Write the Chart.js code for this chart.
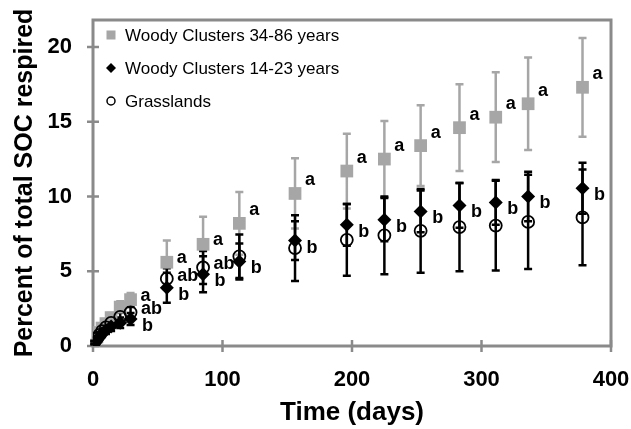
<!DOCTYPE html>
<html lang="en">
<head>
<meta charset="UTF-8">
<title>Percent of total SOC respired</title>
<script src="https://cdn.jsdelivr.net/npm/chart.js"></script>
<style>
    body {
        margin: 0;
        padding: 0;
        background: #ffffff;
    }

    #chart-container {
        width: 631px;
        height: 429px;
    }
</style>
</head>
<body>
<div id="chart-container">
    <canvas id="socChart"></canvas>
</div>
<script>
    // incubation days
    const days = [1, 3, 5, 7, 10, 14, 21, 29, 57, 85, 113, 156, 196, 225, 253, 283, 311, 336, 378];

    // Woody Clusters 34-86 years
    const oldClusters = [0.3, 0.6, 0.9, 1.2, 1.5, 1.9, 2.6, 3.1, 5.6, 6.8, 8.2, 10.2, 11.7, 12.5, 13.4, 14.6, 15.3, 16.2, 17.3];
    const oldErr = [0.1, 0.15, 0.2, 0.2, 0.25, 0.3, 0.4, 0.45, 1.45, 1.85, 2.1, 2.35, 2.5, 2.55, 2.7, 2.9, 3.0, 3.1, 3.3];
    const oldLetters = ['', '', '', '', '', '', '', 'a', 'a', 'a', 'a', 'a', 'a', 'a', 'a', 'a', 'a', 'a', 'a'];

    // Woody Clusters 14-23 years
    const youngClusters = [0.2, 0.4, 0.6, 0.85, 1.05, 1.3, 1.55, 1.8, 3.9, 4.8, 5.65, 7.05, 8.1, 8.45, 9.0, 9.4, 9.6, 10.0, 10.55];
    const youngErr = [0.1, 0.1, 0.15, 0.2, 0.25, 0.3, 0.35, 0.4, 1.0, 1.2, 1.2, 1.3, 1.4, 1.45, 1.4, 1.5, 1.5, 1.65, 1.7];
    const youngLetters = ['', '', '', '', '', '', '', 'b', 'b', 'b', 'b', 'b', 'b', 'b', 'b', 'b', 'b', 'b', 'b'];

    // Grasslands
    const grasslands = [0.25, 0.5, 0.75, 1.0, 1.25, 1.55, 1.95, 2.25, 4.5, 5.25, 6.0, 6.55, 7.1, 7.4, 7.7, 7.95, 8.05, 8.3, 8.6];
    const grassErr = [0.1, 0.1, 0.15, 0.2, 0.2, 0.25, 0.3, 0.35, 0.7, 1.1, 1.45, 2.2, 2.4, 2.6, 2.8, 2.95, 3.0, 3.15, 3.2];
    const grassLetters = ['', '', '', '', '', '', '', 'ab', 'ab', 'ab', '', '', '', '', '', '', '', '', ''];

    const xTicks = [0, 100, 200, 300, 400];
    const yTicks = [0, 5, 10, 15, 20];

    const FONT = "'Liberation Sans', Arial, sans-serif";
    const GRAY = '#a6a6a6';
    const FRAME_GRAY = '#8a8a8a';

    function points(values) {
        return days.map((d, i) => ({ x: d, y: values[i] }));
    }

    // frame, crossing tick marks and error bars, all under the markers
    const decorations = {
        id: 'decorations',
        beforeDatasetsDraw(chart) {
            const { ctx, chartArea: a, scales: { x, y } } = chart;
            ctx.save();

            ctx.strokeStyle = FRAME_GRAY;
            ctx.lineWidth = 3;
            ctx.strokeRect(a.left, a.top, a.right - a.left, a.bottom - a.top);

            ctx.lineWidth = 2.5;
            ctx.beginPath();
            x.ticks.forEach(t => {
                const px = x.getPixelForValue(t.value);
                ctx.moveTo(px, a.bottom - 6);
                ctx.lineTo(px, a.bottom + 6);
            });
            y.ticks.forEach(t => {
                const py = y.getPixelForValue(t.value);
                ctx.moveTo(a.left - 6, py);
                ctx.lineTo(a.left + 6, py);
            });
            ctx.stroke();

            chart.data.datasets.forEach(ds => {
                ctx.strokeStyle = ds.errColor;
                ctx.lineWidth = 2.5;
                ctx.beginPath();
                ds.data.forEach((p, j) => {
                    const e = ds.errors[j];
                    const px = x.getPixelForValue(p.x);
                    const top = y.getPixelForValue(p.y + e);
                    const bot = y.getPixelForValue(Math.max(0, p.y - e));
                    ctx.moveTo(px, top);
                    ctx.lineTo(px, bot);
                    ctx.moveTo(px - 4, top);
                    ctx.lineTo(px + 4, top);
                    ctx.moveTo(px - 4, bot);
                    ctx.lineTo(px + 4, bot);
                });
                ctx.stroke();
            });
            ctx.restore();
        },
        afterDatasetsDraw(chart) {
            const { ctx, chartArea: a, scales: { x, y } } = chart;
            ctx.save();

            // significance letters
            ctx.fillStyle = '#000';
            ctx.font = 'bold 18px ' + FONT;
            ctx.textAlign = 'center';
            ctx.textBaseline = 'middle';
            chart.data.datasets.forEach(ds => {
                ds.data.forEach((p, j) => {
                    const txt = ds.letters[j];
                    if (!txt) return;
                    const px = x.getPixelForValue(p.x);
                    const py = y.getPixelForValue(p.y);
                    let dy = ds.letterDy;
                    if (ds.label.indexOf('34-86') >= 0 && p.x < 100) dy = -4;
                    ctx.fillText(txt, px + ds.letterDx, py + dy);
                });
            });

            // legend inside the plot, top left
            ctx.font = '17px ' + FONT;
            ctx.textAlign = 'left';
            chart.data.datasets.forEach((ds, i) => {
                const cx = a.left + 18;
                const cy = a.top + 15 + i * 33;
                ctx.beginPath();
                if (ds.pointStyle === 'rect') {
                    ctx.fillStyle = ds.backgroundColor;
                    ctx.fillRect(cx - 4.5, cy - 4.5, 9, 9);
                } else if (ds.pointStyle === 'rectRot') {
                    ctx.fillStyle = '#000';
                    ctx.moveTo(cx - 5, cy);
                    ctx.lineTo(cx, cy - 5);
                    ctx.lineTo(cx + 5, cy);
                    ctx.lineTo(cx, cy + 5);
                    ctx.closePath();
                    ctx.fill();
                } else {
                    ctx.strokeStyle = '#000';
                    ctx.lineWidth = 1.5;
                    ctx.arc(cx, cy, 4, 0, Math.PI * 2);
                    ctx.stroke();
                }
                ctx.fillStyle = '#000';
                ctx.fillText(ds.label, cx + 14, cy + 1);
            });
            ctx.restore();
        }
    };

    const ctx = document.getElementById('socChart').getContext('2d');

    const chart = new Chart(ctx, {
        type: 'scatter',
        data: {
            datasets: [{
                label: 'Woody Clusters 34-86 years',
                data: points(oldClusters),
                errors: oldErr,
                letters: oldLetters,
                letterDx: 15,
                letterDy: -13,
                errColor: GRAY,
                pointStyle: 'rect',
                pointRadius: 9,
                backgroundColor: GRAY,
                borderWidth: 0,
                order: 3
            }, {
                label: 'Woody Clusters 14-23 years',
                data: points(youngClusters),
                errors: youngErr,
                letters: youngLetters,
                letterDx: 17,
                letterDy: 7,
                errColor: '#000',
                pointStyle: 'rectRot',
                pointRadius: 7,
                backgroundColor: '#000',
                borderWidth: 0,
                order: 1
            }, {
                label: 'Grasslands',
                data: points(grasslands),
                errors: grassErr,
                letters: grassLetters,
                letterDx: 21,
                letterDy: -3,
                errColor: '#000',
                pointStyle: 'circle',
                pointRadius: 6,
                backgroundColor: 'rgba(255,255,255,0)',
                borderColor: '#000',
                borderWidth: 1.8,
                order: 2
            }]
        },
        options: {
            responsive: true,
            maintainAspectRatio: false,
            animation: false,
            layout: {
                padding: { top: 20, right: 20, left: 0, bottom: 0 }
            },
            plugins: {
                legend: { display: false },
                tooltip: { enabled: false }
            },
            scales: {
                x: {
                    type: 'linear',
                    min: 0,
                    max: 400,
                    afterBuildTicks: axis => { axis.ticks = xTicks.map(v => ({ value: v })); },
                    afterFit: axis => {
                        axis.height = 83;
                        axis.paddingLeft = 0;
                        axis.paddingRight = 0;
                    },
                    grid: { display: false, drawTicks: false },
                    border: { display: false },
                    ticks: {
                        color: '#000',
                        padding: 21,
                        font: { family: FONT, size: 22, weight: 'bold' }
                    },
                    title: {
                        display: true,
                        text: 'Time (days)',
                        color: '#000',
                        padding: { top: 1, bottom: 1 },
                        font: { family: FONT, size: 26, weight: 'bold' }
                    }
                },
                y: {
                    min: 0,
                    max: 21.8,
                    afterBuildTicks: axis => { axis.ticks = yTicks.map(v => ({ value: v })); },
                    afterFit: axis => {
                        axis.width = 93;
                        axis.paddingTop = 0;
                        axis.paddingBottom = 0;
                    },
                    grid: { display: false, drawTicks: false },
                    border: { display: false },
                    ticks: {
                        color: '#000',
                        padding: 21,
                        font: { family: FONT, size: 22, weight: 'bold' }
                    },
                    title: {
                        display: true,
                        text: 'Percent of total SOC respired',
                        color: '#000',
                        padding: { top: 10, bottom: 2 },
                        font: { family: FONT, size: 25, weight: 'bold' }
                    }
                }
            }
        },
        plugins: [decorations]
    });
</script>
</body>
</html>
